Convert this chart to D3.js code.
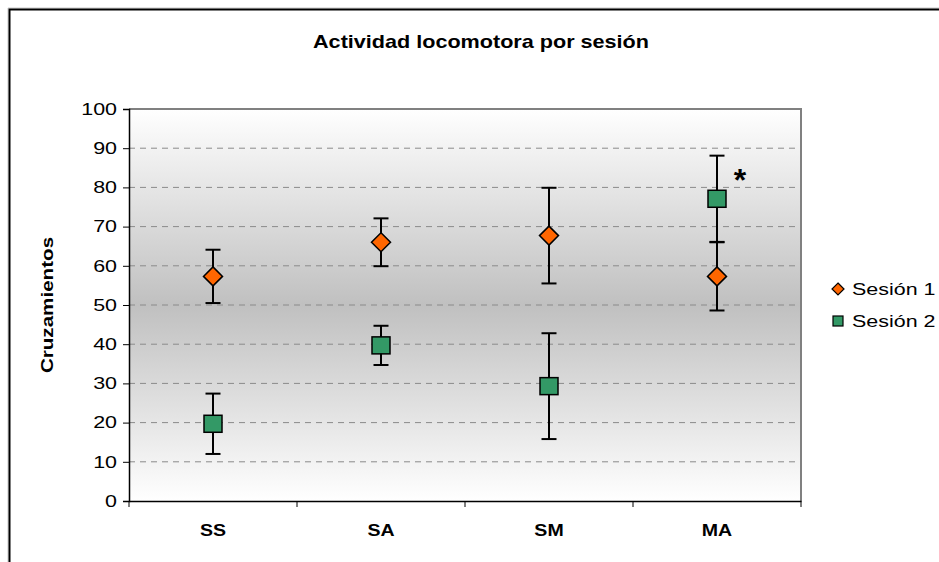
<!DOCTYPE html>
<html><head><meta charset="utf-8">
<script src="https://cdn.jsdelivr.net/npm/d3@7"></script>
<style>body{margin:0;background:#fff}svg{display:block}text{font-family:Arial,"Liberation Sans",sans-serif}</style>
</head><body>
<script>
const categories = ["SS","SA","SM","MA"];
const series1 = [57.3, 66.0, 67.7, 57.3];
const err1 = [6.8, 6.1, 12.2, 8.7];
const series2 = [19.7, 39.7, 29.3, 77.1];
const err2 = [7.7, 5.0, 13.5, 11.0];
const yTicks = [0,10,20,30,40,50,60,70,80,90,100];
const seriesNames = ["Sesión 1","Sesión 2"];
const title = "Actividad locomotora por sesión";
const yTitle = "Cruzamientos";

const W=939,H=562, SX=1.33;
const svg=d3.select("body").append("svg").attr("width",W).attr("height",H);
const m={l:129,r:801,t:109,b:501};
const x=d3.scaleBand().domain(categories).range([m.l,m.r]);
const y=d3.scaleLinear().domain([0,100]).range([m.b,m.t]);

// chart border
svg.append("path").attr("d",`M8,${H+5} V8 H${W+5}`).attr("fill","none").attr("stroke","#c8c8c8").attr("stroke-width",1);
svg.append("path").attr("d",`M9.5,${H+5} V9.5 H${W+5}`).attr("fill","none").attr("stroke","#000").attr("stroke-width",2);

const defs=svg.append("defs");
const g=defs.append("linearGradient").attr("id","bg").attr("x1",0).attr("y1",0).attr("x2",0).attr("y2",1);
g.append("stop").attr("offset","0%").attr("stop-color","#ffffff");
g.append("stop").attr("offset","50%").attr("stop-color","#c0c0c0");
g.append("stop").attr("offset","100%").attr("stop-color","#ffffff");
svg.append("rect").attr("x",m.l).attr("y",m.t).attr("width",m.r-m.l).attr("height",m.b-m.t).attr("fill","url(#bg)");

// grid
svg.append("g").selectAll("line").data(yTicks.filter(d=>d>0&&d<100)).join("line")
 .attr("x1",m.l).attr("x2",m.r).attr("y1",d=>y(d)).attr("y2",d=>y(d))
 .attr("stroke","#8a8a8a").attr("stroke-width",1).attr("stroke-dasharray","6,5");

// top/right border
svg.append("path").attr("d",`M${m.l},${m.t} H${m.r} V${m.b}`).attr("fill","none").attr("stroke","#808080").attr("stroke-width",2);

// y axis
const ya=svg.append("g").attr("transform",`translate(${m.l},0)`).call(d3.axisLeft(y).tickValues(yTicks).tickSize(6).tickPadding(6));
ya.select(".domain").attr("stroke","#000").attr("stroke-width",1.5);
ya.selectAll(".tick line").attr("stroke","#000");
ya.selectAll(".tick text").attr("font-size",16.5).attr("fill","#000").each(function(){
  const t=d3.select(this); const xx=+t.attr("x");
  t.attr("x",null).attr("transform",`translate(${xx},0) scale(1.3,1)`);
});
// x axis
const xa=svg.append("g").attr("transform",`translate(0,${m.b})`).call(d3.axisBottom(x).tickSize(0).tickPadding(23));
xa.select(".domain").attr("stroke","#000").attr("stroke-width",1.5);
xa.selectAll(".tick text").attr("font-size",17).attr("font-weight","bold").attr("fill","#000")
  .each(function(){const t=d3.select(this);const yy=+t.attr("y");t.attr("y",null).attr("transform",`translate(0,${yy}) scale(1.15,1)`);});
const bounds=categories.map(c=>x(c)).concat([m.r]);
svg.append("g").selectAll("line").data(bounds).join("line")
 .attr("x1",d=>d).attr("x2",d=>d).attr("y1",m.b).attr("y2",m.b+6).attr("stroke","#000");

// error bars
function errBars(vals,errs){
  const gg=svg.append("g").attr("stroke","#000").attr("stroke-width",2);
  vals.forEach((v,i)=>{
    const cx=x(categories[i])+x.bandwidth()/2;
    gg.append("line").attr("x1",cx).attr("x2",cx).attr("y1",y(v-errs[i])).attr("y2",y(v+errs[i]));
    [v-errs[i],v+errs[i]].forEach(e=>gg.append("line").attr("x1",cx-7.5).attr("x2",cx+7.5).attr("y1",y(e)).attr("y2",y(e)));
  });
}
errBars(series1,err1); errBars(series2,err2);

// markers
svg.append("g").selectAll("path").data(series1).join("path")
 .attr("d",(d,i)=>{const cx=x(categories[i])+x.bandwidth()/2, cy=y(d);return `M${cx},${cy-9.5}L${cx+9.5},${cy}L${cx},${cy+9.5}L${cx-9.5},${cy}Z`;})
 .attr("fill","#ff6600").attr("stroke","#000").attr("stroke-width",1.5);
svg.append("g").selectAll("rect").data(series2).join("rect")
 .attr("x",(d,i)=>x(categories[i])+x.bandwidth()/2-9).attr("y",d=>y(d)-8.5).attr("width",18).attr("height",17)
 .attr("fill","#339966").attr("stroke","#000").attr("stroke-width",1.5);

// asterisk
svg.append("text").attr("x",740).attr("y",191).attr("text-anchor","middle").attr("font-size",32).attr("font-weight","bold").text("*");

// title
svg.append("text").attr("transform",`translate(481,48) scale(1.2,1)`).attr("text-anchor","middle").attr("font-size",18).attr("font-weight","bold").text(title);
// y title
svg.append("text").attr("transform",`translate(53,305) rotate(-90) scale(1.25,1)`).attr("text-anchor","middle").attr("font-size",16.5).attr("font-weight","bold").text(yTitle);

// legend
const lg=svg.append("g");
lg.append("path").attr("d","M838,283L844,289L838,295L832,289Z").attr("fill","#ff6600").attr("stroke","#000").attr("stroke-width",1.2);
lg.append("rect").attr("x",833).attr("y",316).attr("width",10).attr("height",10).attr("fill","#339966").attr("stroke","#000").attr("stroke-width",1.2);
seriesNames.forEach((n,i)=>lg.append("text").attr("transform",`translate(852,${295+i*32}) scale(1.3,1)`).attr("font-size",16.5).text(n));
</script>
</body></html>
